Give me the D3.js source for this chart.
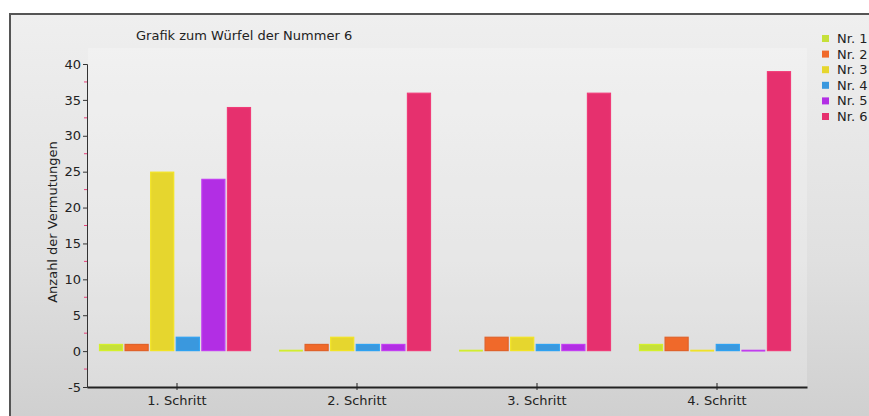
<!DOCTYPE html>
<html><head><meta charset="utf-8">
<script src="https://cdn.jsdelivr.net/npm/d3@7"></script>
<style>body{margin:0;background:#fff;}svg{display:block;font-family:"DejaVu Sans",Verdana,sans-serif;}</style>
</head><body>
<svg id="c" width="869" height="416"></svg>
<script>
const categories = ["1. Schritt","2. Schritt","3. Schritt","4. Schritt"];
const seriesNames = ["Nr. 1","Nr. 2","Nr. 3","Nr. 4","Nr. 5","Nr. 6"];
const nr1 = [1,0,0,1];
const nr2 = [1,1,2,2];
const nr3 = [25,2,2,0];
const nr4 = [2,1,1,1];
const nr5 = [24,1,1,0];
const nr6 = [34,36,36,39];
const yTicks = [-5,0,5,10,15,20,25,30,35,40];
const colors = ["#c6e03a","#f0692a","#e6d62e","#3a98de","#b22ee4","#e6306e"];
const strokes = ["#d4f02a","#e0622a","#f2e424","#2ea2f2","#c23ef2","#f03c78"];
const title = "Grafik zum Würfel der Nummer 6";
const yLabel = "Anzahl der Vermutungen";

(function(){
const values = [nr1,nr2,nr3,nr4,nr5,nr6];
const svg = d3.select("#c");
const defs = svg.append("defs");
const g1 = defs.append("linearGradient").attr("id","bg").attr("x1",0).attr("y1",0).attr("x2",0).attr("y2",1);
g1.append("stop").attr("offset","0%").attr("stop-color","#efefef");
g1.append("stop").attr("offset","60%").attr("stop-color","#e0e0e0");
g1.append("stop").attr("offset","100%").attr("stop-color","#cfcfcf");

svg.append("rect").attr("x",10).attr("y",14).attr("width",870).attr("height",410)
  .attr("fill","url(#bg)").attr("stroke","#555").attr("stroke-width",2);

const pL=87, pR=807, pT=64, pB=387;
const y = d3.scaleLinear().domain([-5,40]).range([pB, pT]);
const x0 = d3.scaleBand().domain(categories).range([pL,pR]).padding(0);
const x1 = d3.scaleBand().domain(seriesNames).range([12,164]).paddingInner(0.06).paddingOuter(0);

svg.append("rect").attr("x",pL+1).attr("y",48).attr("width",pR-pL-1).attr("height",pB-48)
  .attr("fill","#ffffff").attr("opacity",0.22);

svg.append("text").attr("x",136).attr("y",40).attr("font-size",13).attr("fill","#222").text(title);

const yAxis = d3.axisLeft(y).tickValues(yTicks).tickSize(4).tickPadding(2).tickFormat(d=>String(d));
const ya = svg.append("g").attr("transform",`translate(${pL},0)`).call(yAxis);
ya.select(".domain").attr("stroke","#333");
ya.selectAll(".tick line").attr("stroke","#333");
ya.selectAll(".tick text").attr("font-size",13).attr("fill","#222").attr("font-family","DejaVu Sans, sans-serif");
const minor = d3.range(-2.5,40,5);
svg.append("g").selectAll("line").data(minor).join("line")
  .attr("x1",pL-3).attr("x2",pL).attr("y1",d=>y(d)).attr("y2",d=>y(d))
  .attr("stroke","#e8407a").attr("stroke-width",1);

svg.append("text").attr("transform",`translate(57,222) rotate(-90)`).attr("text-anchor","middle")
  .attr("font-size",13).attr("fill","#222").text(yLabel);

const grp = svg.append("g").selectAll("g").data(categories).join("g")
  .attr("transform",d=>`translate(${x0(d)},0)`);
grp.selectAll("rect").data((c,ci)=>seriesNames.map((s,si)=>({s,si,v:values[si][ci]}))).join("rect")
  .attr("x",d=>x1(d.s)+0.5).attr("width",x1.bandwidth()-1)
  .attr("y",d=>d.v===0 ? y(0)-1 : Math.min(y(d.v),y(0))+0.5)
  .attr("height",d=>d.v===0 ? 1 : Math.max(1,Math.abs(y(0)-y(d.v))-1))
  .attr("fill",d=>colors[d.si]).attr("stroke",d=>strokes[d.si]).attr("stroke-width",d=>d.v===0?0.8:1.2);

const xAxis = d3.axisBottom(x0).tickSize(0).tickPadding(9);
const xa = svg.append("g").attr("transform",`translate(0,${pB})`).call(xAxis);
xa.select(".domain").attr("stroke","#222").attr("stroke-width",2);
xa.selectAll(".tick text").attr("font-size",13).attr("fill","#222").attr("font-family","DejaVu Sans, sans-serif");
xa.selectAll(".tick").append("line").attr("y1",-4).attr("y2",3).attr("stroke","#222");

const lg = svg.append("g").selectAll("g").data(seriesNames).join("g")
  .attr("transform",(d,i)=>`translate(822,${38+i*15.6})`);
lg.append("rect").attr("x",0).attr("y",-3).attr("width",7).attr("height",7).attr("fill",(d,i)=>colors[i]);
lg.append("text").attr("x",15).attr("y",5).attr("font-size",13).attr("fill","#222").text(d=>d);
})();
</script>
</body></html>
